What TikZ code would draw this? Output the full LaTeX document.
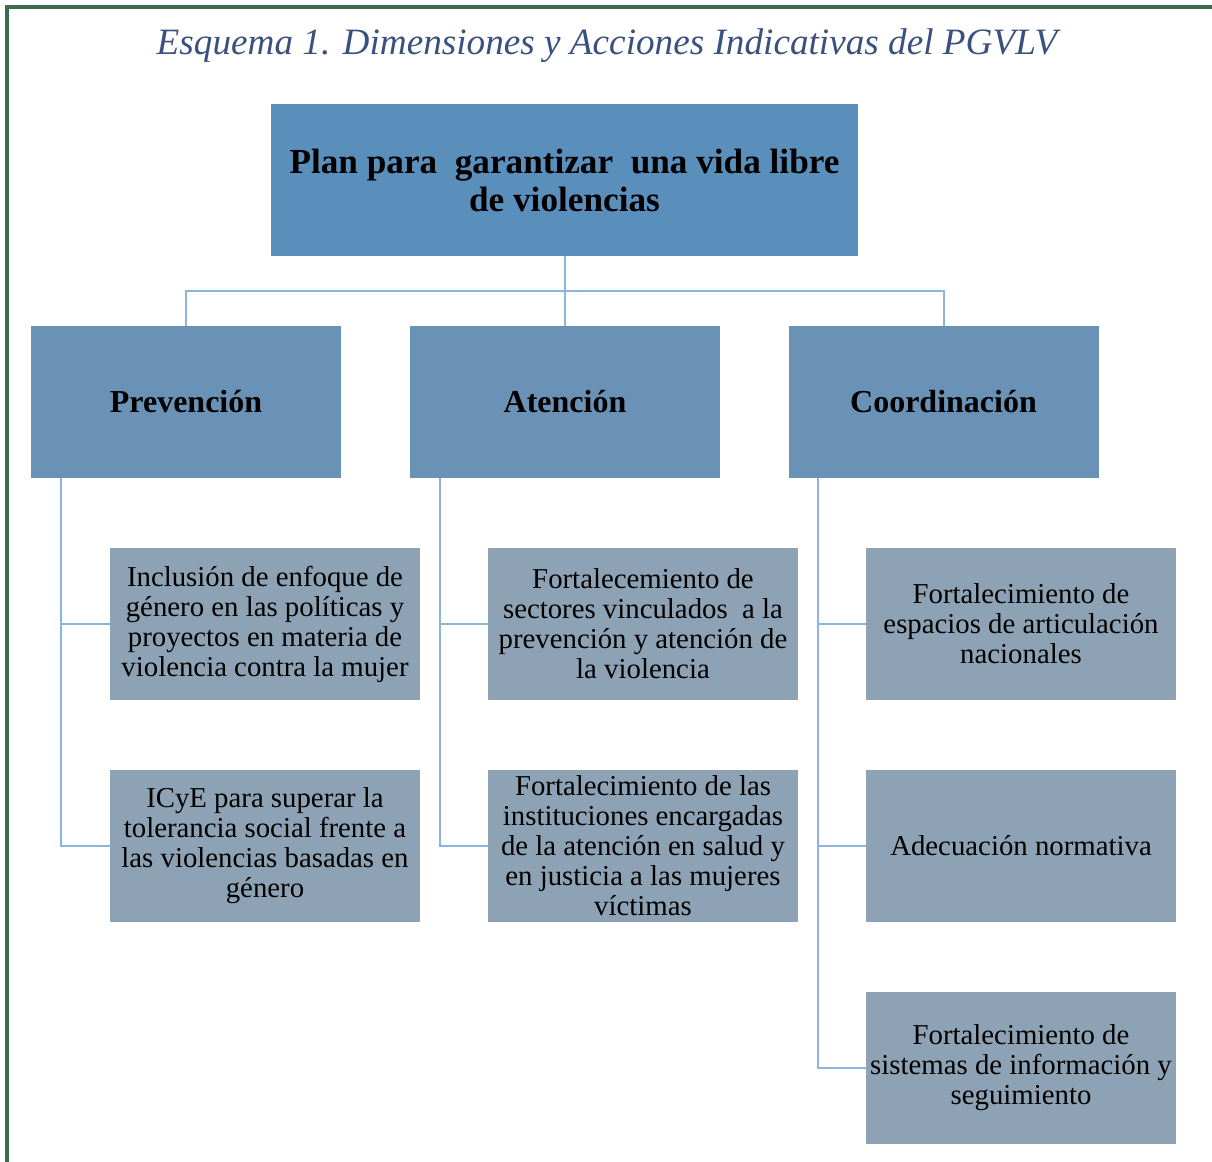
\documentclass[tikz,border=0pt]{standalone}
\usepackage{fontspec}
\setmainfont{Liberation Serif}
\usepackage{xcolor}
\usepackage{tikz}

\definecolor{planblue}{HTML}{5A8EBB}
\definecolor{dimblue}{HTML}{6992B6}
\definecolor{accgrey}{HTML}{8DA2B5}
\definecolor{linkblue}{HTML}{8DB3DF}
\definecolor{framegreen}{HTML}{3F6B4D}
\definecolor{titleblue}{HTML}{3A5080}

\tikzset{
	titulo/.style={font=\fontsize{18.6}{22}\selectfont\itshape, text=titleblue},
	planbox/.style={fill=planblue, minimum width=293.5pt, minimum height=76pt, inner sep=0pt,
		align=center, font=\fontsize{17.6}{19}\selectfont\bfseries},
	dimbox/.style={fill=dimblue, minimum width=155pt, minimum height=76pt, inner sep=0pt,
		font=\fontsize{16}{18}\selectfont\bfseries},
	accbox/.style={fill=accgrey, minimum width=155pt, minimum height=76pt, inner sep=0pt,
		align=center, font=\fontsize{14.4}{15}\selectfont},
	link/.style={draw=linkblue, line width=1pt}
}

\begin{document}
\begin{tikzpicture}[x=0.5pt, y=-0.5pt]
\useasboundingbox (0,0) rectangle (1212,1162);
\draw[framegreen, line width=1.6pt] (7,1175) -- (7,7) -- (1225,7);

\node[titulo] (tit) at (607,46) {Esquema 1. Dimensiones y Acciones Indicativas del PGVLV};

\node[planbox] (plan) at (564.5,180) {Plan para~ garantizar~ una vida libre\\de violencias};

% dimensiones
\node[dimbox] (prev) at (186,402) {Prevención};
\node[dimbox] (aten) at (565,402) {Atención};
\node[dimbox] (coord) at (943.5,402) {Coordinación};

% acciones
\node[accbox] (prev1) at (265,624) {Inclusión de enfoque de\\género en las políticas y\\proyectos en materia de\\violencia contra la mujer};
\node[accbox] (prev2) at (265,846) {ICyE para superar la\\tolerancia social frente a\\las violencias basadas en\\género};
\node[accbox] (aten1) at (643,624) {Fortalecemiento de\\sectores vinculados~ a la\\prevención y atención de\\la violencia};
\node[accbox] (aten2) at (643,846) {Fortalecimiento de las\\instituciones encargadas\\de la atención en salud y\\en justicia a las mujeres\\víctimas};
\node[accbox] (coord1) at (1021,624) {Fortalecimiento de\\espacios de articulación\\nacionales};
\node[accbox] (coord2) at (1021,846) {Adecuación normativa};
\node[accbox] (coord3) at (1021,1068) {Fortalecimiento de\\sistemas de información y\\seguimiento};

% conectores
\coordinate (bus) at (566,291);
\draw[link] (plan.south) -- (plan.south |- bus);
\foreach \d in {prev,aten,coord}{
	\draw[link] (plan.south |- bus) -| (\d.north);
}
\foreach \d/\a in {prev/prev1,prev/prev2,aten/aten1,aten/aten2,coord/coord1,coord/coord2,coord/coord3}{
	\draw[link] ([xshift=15pt]\d.south west) |- (\a.west);
}
\end{tikzpicture}
\end{document}
